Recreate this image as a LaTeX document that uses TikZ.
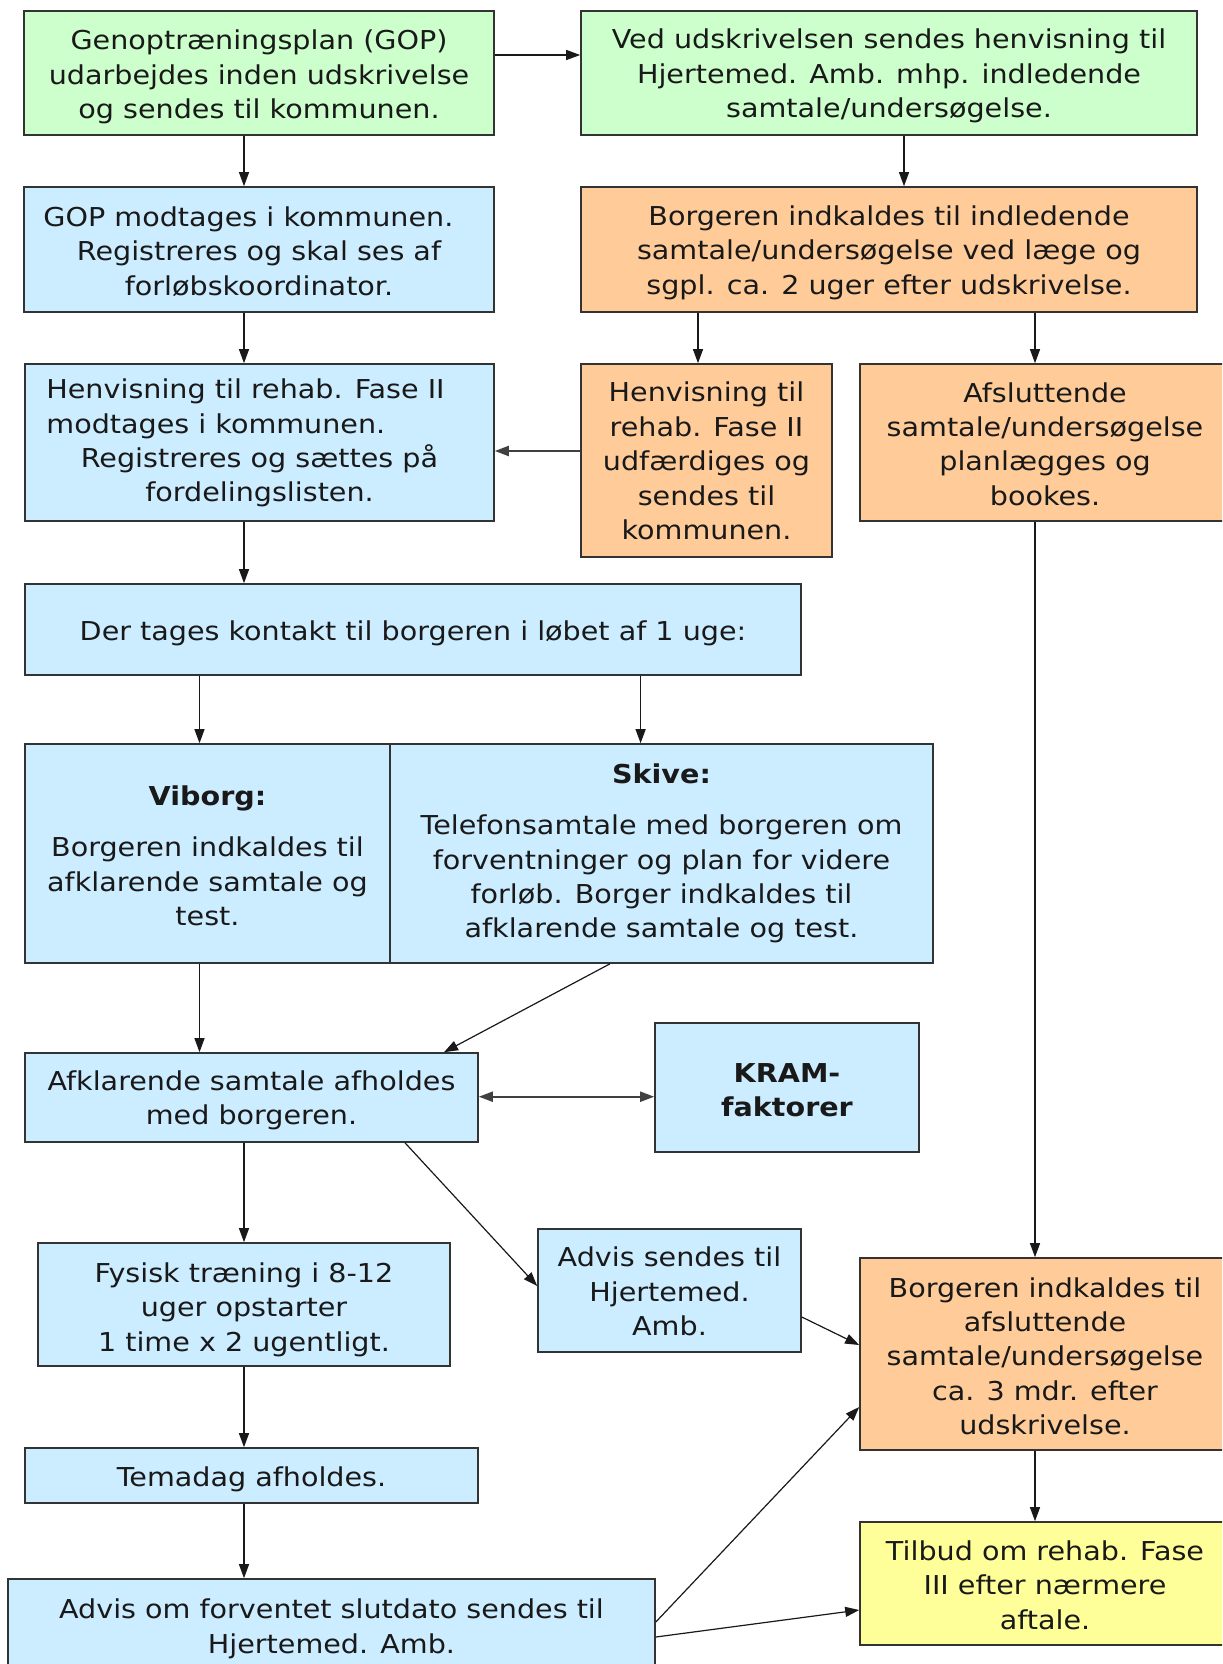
\documentclass[tikz,border=0pt]{standalone}
\usepackage{fontspec}
\setmainfont{DejaVu Sans}[FakeStretch=1.1]
\usetikzlibrary{arrows.meta}
\definecolor{cgreen}{HTML}{CCFFCC}
\definecolor{cblue}{HTML}{CCECFF}
\definecolor{corange}{HTML}{FFCC99}
\definecolor{cyellow}{HTML}{FFFF99}
\begin{document}
\begin{tikzpicture}[x=0.5pt,y=-0.5pt,
  box/.style={draw=black!80, line width=0.8pt, inner sep=0pt},
  tx/.style={align=center, inner sep=0pt, font=\fontsize{13}{17.2}\selectfont, text=black!90},
  arr/.style={-{Triangle[length=7pt,width=5pt]}, line width=0.6pt, black!90},
  darr/.style={{Triangle[length=7pt,width=5pt]}-{Triangle[length=7pt,width=5pt]}, line width=1pt, black!75},
]
\useasboundingbox (0,0) rectangle (1222,1664);
\clip (0,0) rectangle (1222,1664);

% column coordinates
\coordinate (x199) at (199.5,0);
\coordinate (x244) at (244,0);
\coordinate (x641) at (640.6,0);
\coordinate (x698) at (698,0);
\coordinate (x904) at (904,0);
\coordinate (x1035) at (1035,0);

% row 1
\node[box, fill=cgreen, minimum width=235pt, minimum height=62pt,
  label={[tx,yshift=-2.1pt]center:{Genoptræningsplan (GOP)\\udarbejdes inden udskrivelse\\og sendes til kommunen.}}] (gop) at (259,73) {};
\node[box, fill=cgreen, minimum width=308pt, minimum height=62pt,
  label={[tx,yshift=-1.6pt]center:{Ved udskrivelsen sendes henvisning til\\Hjertemed. Amb. mhp. indledende\\samtale/undersøgelse.}}] (ved) at (889,73) {};

% row 2
\node[box, fill=cblue, minimum width=235pt, minimum height=62.5pt,
  label={[tx,yshift=-1.1pt]center:{GOP modtages i kommunen.\hspace*{10.6pt}\\Registreres og skal ses af\\forløbskoordinator.}}] (gopm) at (259,249.5) {};
\node[box, fill=corange, minimum width=308pt, minimum height=62.5pt,
  label={[tx,yshift=-1.6pt]center:{Borgeren indkaldes til indledende\\samtale/undersøgelse ved læge og\\sgpl. ca. 2 uger efter udskrivelse.}}] (borg1) at (889,249.5) {};

% row 3
\node[box, fill=cblue, minimum width=234.5pt, minimum height=78.5pt,
  label={[tx,yshift=-0.3pt]center:{Henvisning til rehab. Fase II\hspace*{14pt}\\\rlap{modtages i kommunen.}\phantom{Henvisning til rehab. Fase II\hspace*{14pt}}\\Registreres og sættes på\\fordelingslisten.}}] (henv) at (259.5,442.5) {};
\node[box, fill=corange, minimum width=125.5pt, minimum height=96.5pt,
  label={[tx,yshift=-0.3pt]center:{Henvisning til\\rehab. Fase II\\udfærdiges og\\sendes til\\kommunen.}}] (henvt) at (706.5,460.5) {};
\node[box, fill=corange, minimum width=185pt, minimum height=78.5pt,
  label={[tx,yshift=-0.8pt]center:{Afsluttende\\samtale/undersøgelse\\planlægges og\\bookes.}}] (afsl) at (1045,442.5) {};

% row 4
\node[box, fill=cblue, minimum width=388pt, minimum height=45.5pt,
  label={[tx,yshift=-2.1pt]center:{Der tages kontakt til borgeren i løbet af 1 uge:}}] (der) at (413,629.5) {};

% row 5
\node[box, fill=cblue, minimum width=182.5pt, minimum height=109.5pt,
  label={[tx,yshift=-1.1pt]center:{\textbf{Viborg:}\\[8.5pt]Borgeren indkaldes til\\afklarende samtale og\\test.}}] (vib) at (207.5,853.5) {};
\node[box, fill=cblue, minimum width=271.5pt, minimum height=109.5pt,
  label={[tx,yshift=0pt]center:{\textbf{Skive:}\\[8.5pt]Telefonsamtale med borgeren om\\forventninger og plan for videre\\forløb. Borger indkaldes til\\afklarende samtale og test.}}] (ski) at (661.5,853.5) {};

% row 6
\node[box, fill=cblue, minimum width=226.5pt, minimum height=44.5pt,
  label={[tx,yshift=-1.3pt]center:{Afklarende samtale afholdes\\med borgeren.}}] (afk) at (251.5,1097.5) {};
\node[box, fill=cblue, minimum width=132pt, minimum height=64.5pt,
  label={[tx,yshift=-1.3pt]center:{\textbf{KRAM-}\\\textbf{faktorer}}}] (kram) at (787,1087.5) {};

% row 7
\node[box, fill=cblue, minimum width=206pt, minimum height=61.5pt,
  label={[tx,yshift=-2.6pt]center:{Fysisk træning i 8-12\\uger opstarter\\1 time x 2 ugentligt.}}] (fys) at (244,1304.5) {};
\node[box, fill=cblue, minimum width=131.5pt, minimum height=61.5pt,
  label={[tx,yshift=-0.5pt]center:{Advis sendes til\\Hjertemed.\\Amb.}}] (advs) at (669.5,1290.5) {};
\node[box, fill=corange, minimum width=185pt, minimum height=96pt,
  label={[tx,yshift=-1.1pt]center:{Borgeren indkaldes til\\afsluttende\\samtale/undersøgelse\\ca. 3 mdr. efter\\udskrivelse.}}] (borg2) at (1045,1354) {};

% row 8
\node[box, fill=cblue, minimum width=226.5pt, minimum height=27.5pt,
  label={[tx,yshift=-2.1pt]center:{Temadag afholdes.}}] (tema) at (251.5,1475.5) {};
\node[box, fill=cyellow, minimum width=185pt, minimum height=61.5pt,
  label={[tx,yshift=-0.8pt]center:{Tilbud om rehab. Fase\\III efter nærmere\\aftale.}}] (tilb) at (1045,1583.5) {};

% row 9
\node[box, fill=cblue, minimum width=323.5pt, minimum height=49pt,
  label={[tx,yshift=-0.5pt]center:{Advis om forventet slutdato sendes til\\Hjertemed. Amb.}}] (advo) at (331.5,1628) {};

% helper coordinates for connector ends
\coordinate (ygv) at (0,55);
\coordinate (yhh) at (0,451);
\coordinate (yak) at (0,1096.7);
\coordinate (xs1) at (610,0);
\coordinate (xa1) at (444,0);
\coordinate (xa2) at (405,0);
\coordinate (ya2) at (0,1286);
\coordinate (ya3) at (0,1317);
\coordinate (yb1) at (0,1345);
\coordinate (ya4) at (0,1622);
\coordinate (yb2) at (0,1407);
\coordinate (ya5) at (0,1637);
\coordinate (yt1) at (0,1610);

% connectors
\draw[arr] (gop.east |- ygv) -- (ved.west |- ygv);
\draw[arr] (gop.south -| x244) -- (gopm.north -| x244);
\draw[arr] (ved.south -| x904) -- (borg1.north -| x904);
\draw[arr] (gopm.south -| x244) -- (henv.north -| x244);
\draw[arr] (borg1.south -| x698) -- (henvt.north -| x698);
\draw[arr] (borg1.south -| x1035) -- (afsl.north -| x1035);
\draw[arr, line width=1pt, black!75] (henvt.west |- yhh) -- (henv.east |- yhh);
\draw[arr] (henv.south -| x244) -- (der.north -| x244);
\draw[arr] (der.south -| x199) -- (vib.north -| x199);
\draw[arr] (der.south -| x641) -- (ski.north -| x641);
\draw[arr] (vib.south -| x199) -- (afk.north -| x199);
\draw[arr] (ski.south -| xs1) -- (afk.north -| xa1);
\draw[darr] (afk.east |- yak) -- (kram.west |- yak);
\draw[arr] (afk.south -| x244) -- (fys.north -| x244);
\draw[arr] (afk.south -| xa2) -- (advs.west |- ya2);
\draw[arr] (advs.east |- ya3) -- (borg2.west |- yb1);
\draw[arr] (afsl.south -| x1035) -- (borg2.north -| x1035);
\draw[arr] (fys.south -| x244) -- (tema.north -| x244);
\draw[arr] (tema.south -| x244) -- (advo.north -| x244);
\draw[arr] (advo.east |- ya4) -- (borg2.west |- yb2);
\draw[arr] (advo.east |- ya5) -- (tilb.west |- yt1);
\draw[arr] (borg2.south -| x1035) -- (tilb.north -| x1035);
\end{tikzpicture}
\end{document}
